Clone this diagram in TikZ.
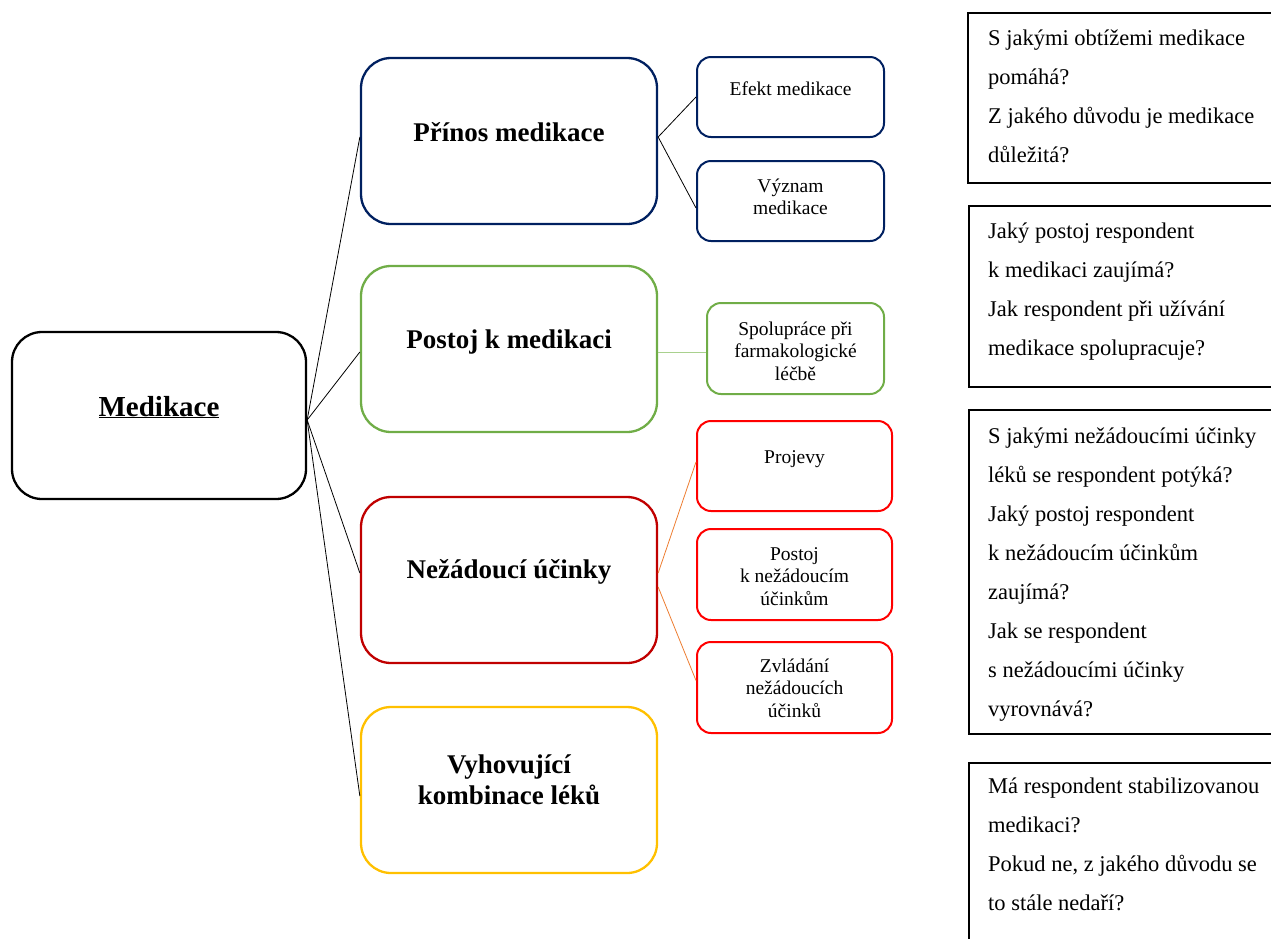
\documentclass[tikz,border=0pt]{standalone}
\usepackage{fontspec}
\setmainfont{Liberation Serif}
\definecolor{navy}{RGB}{0,32,96}
\definecolor{mygreen}{RGB}{112,173,71}
\definecolor{lightgreen}{RGB}{169,209,142}
\definecolor{darkred}{RGB}{192,0,0}
\definecolor{myred}{RGB}{255,0,0}
\definecolor{gold}{RGB}{255,192,0}
\definecolor{myorange}{RGB}{237,125,49}
\begin{document}
\begin{tikzpicture}[x=1pt,y=-1pt,
  bigbox/.style={draw, rounded corners=30pt, line width=2.3pt, minimum width=296pt, minimum height=166pt, inner sep=0pt},
  smallbox/.style={draw, rounded corners=14pt, line width=2pt, inner sep=0pt},
  qbox/.style={draw, line width=2pt, inner sep=0pt, anchor=north west, minimum width=330pt},
  title/.style={font=\fontsize{27}{31}\selectfont\bfseries, anchor=base, inner sep=0pt},
  small/.style={font=\fontsize{19.5}{22.5}\selectfont, anchor=base, inner sep=0pt},
  qtext/.style={font=\fontsize{22.5}{39}\selectfont, anchor=base west, inner sep=0pt},
  link/.style={line width=0.8pt}
]
\useasboundingbox (0,0) rectangle (1271,938);
\clip (0,0) rectangle (1271,938);

% central node
\node[bigbox, minimum width=294pt, minimum height=167pt] (m) at (159,415.5) {};
\node[font=\fontsize{29}{33}\selectfont\bfseries, anchor=base, inner sep=0pt] (mt) at (159,416) {\underline{Medikace}};

% main categories
\node[bigbox, draw=navy] (p) at (509,141) {};
\node[title] (pt) at (509,141) {Přínos medikace};
\node[bigbox, draw=mygreen] (s) at (509,349) {};
\node[title] (st) at (509,348) {Postoj k medikaci};
\node[bigbox, draw=darkred] (n) at (509,580) {};
\node[title] (nt) at (509,578) {Nežádoucí účinky};
\node[bigbox, draw=gold] (v) at (509,790) {};
\node[title] (vt) at (509,773) {\begin{tabular}[t]{@{}c@{}}Vyhovující\\kombinace léků\end{tabular}};

% sub boxes
\node[smallbox, draw=navy, minimum width=187pt, minimum height=80pt] (e) at (790.5,97) {};
\node[small] (et) at (790.5,95) {Efekt medikace};
\node[smallbox, draw=navy, minimum width=187pt, minimum height=80pt] (z) at (790.5,201) {};
\node[small] (zt) at (790.5,192) {\begin{tabular}[t]{@{}c@{}}Význam\\medikace\end{tabular}};
\node[smallbox, draw=mygreen, minimum width=177pt, minimum height=91pt] (sp) at (795.5,348.5) {};
\node[small] (spt) at (795.5,335) {\begin{tabular}[t]{@{}c@{}}Spolupráce při\\farmakologické\\léčbě\end{tabular}};
\node[smallbox, draw=myred, minimum width=195pt, minimum height=90pt] (pr) at (794.5,466) {};
\node[small] (prt) at (794.5,463) {Projevy};
\node[smallbox, draw=myred, minimum width=195pt, minimum height=91pt] (pn) at (794.5,574.5) {};
\node[small] (pnt) at (794.5,560) {\begin{tabular}[t]{@{}c@{}}Postoj\\k nežádoucím\\účinkům\end{tabular}};
\node[smallbox, draw=myred, minimum width=195pt, minimum height=91pt] (zv) at (794.5,687.5) {};
\node[small] (zvt) at (794.5,672) {\begin{tabular}[t]{@{}c@{}}Zvládání\\nežádoucích\\účinků\end{tabular}};

% question boxes
\node[qbox, minimum height=170pt] (q1) at (967,12) {};
\node[qtext] (q1t) at (988,45) {\begin{tabular}[t]{@{}l@{}}S jakými obtížemi medikace\\pomáhá?\\Z jakého důvodu je medikace\\důležitá?\end{tabular}};
\node[qbox, minimum height=181pt] (q2) at (968,205) {};
\node[qtext] (q2t) at (988,238) {\begin{tabular}[t]{@{}l@{}}Jaký postoj respondent\\k medikaci zaujímá?\\Jak respondent při užívání\\medikace spolupracuje?\end{tabular}};
\node[qbox, minimum height=324pt] (q3) at (968,409) {};
\node[qtext] (q3t) at (988,443) {\begin{tabular}[t]{@{}l@{}}S jakými nežádoucími účinky\\léků se respondent potýká?\\Jaký postoj respondent\\k nežádoucím účinkům\\zaujímá?\\Jak se respondent\\s nežádoucími účinky\\vyrovnává?\end{tabular}};
\node[qbox, minimum height=200pt] (q4) at (968,762) {};
\node[qtext] (q4t) at (988,793) {\begin{tabular}[t]{@{}l@{}}Má respondent stabilizovanou\\medikaci?\\Pokud ne, z jakého důvodu se\\to stále nedaří?\end{tabular}};

% connectors
\coordinate (hub) at ([yshift=-4.5pt]m.east);
\draw[link] (hub) -- ([yshift=4pt]p.west);
\draw[link] (hub) -- ([yshift=-3pt]s.west);
\draw[link] (hub) -- ([yshift=7pt]n.west);
\draw[link] (hub) -- ([yshift=-6pt]v.west);

\coordinate (ph) at ([yshift=4pt]p.east);
\draw[link] (ph) -- (e.west);
\draw[link] (ph) -- ([yshift=-7pt]z.west);

\draw[link, draw=lightgreen] ([yshift=-3pt]s.east) -- ([yshift=-3.5pt]sp.west);

\draw[link, draw=myorange] ([yshift=7pt]n.east) -- ([yshift=4pt]pr.west);
\draw[link, draw=myorange] ([yshift=-7pt]n.east) -- ([yshift=7pt]zv.west);
\end{tikzpicture}
\end{document}
